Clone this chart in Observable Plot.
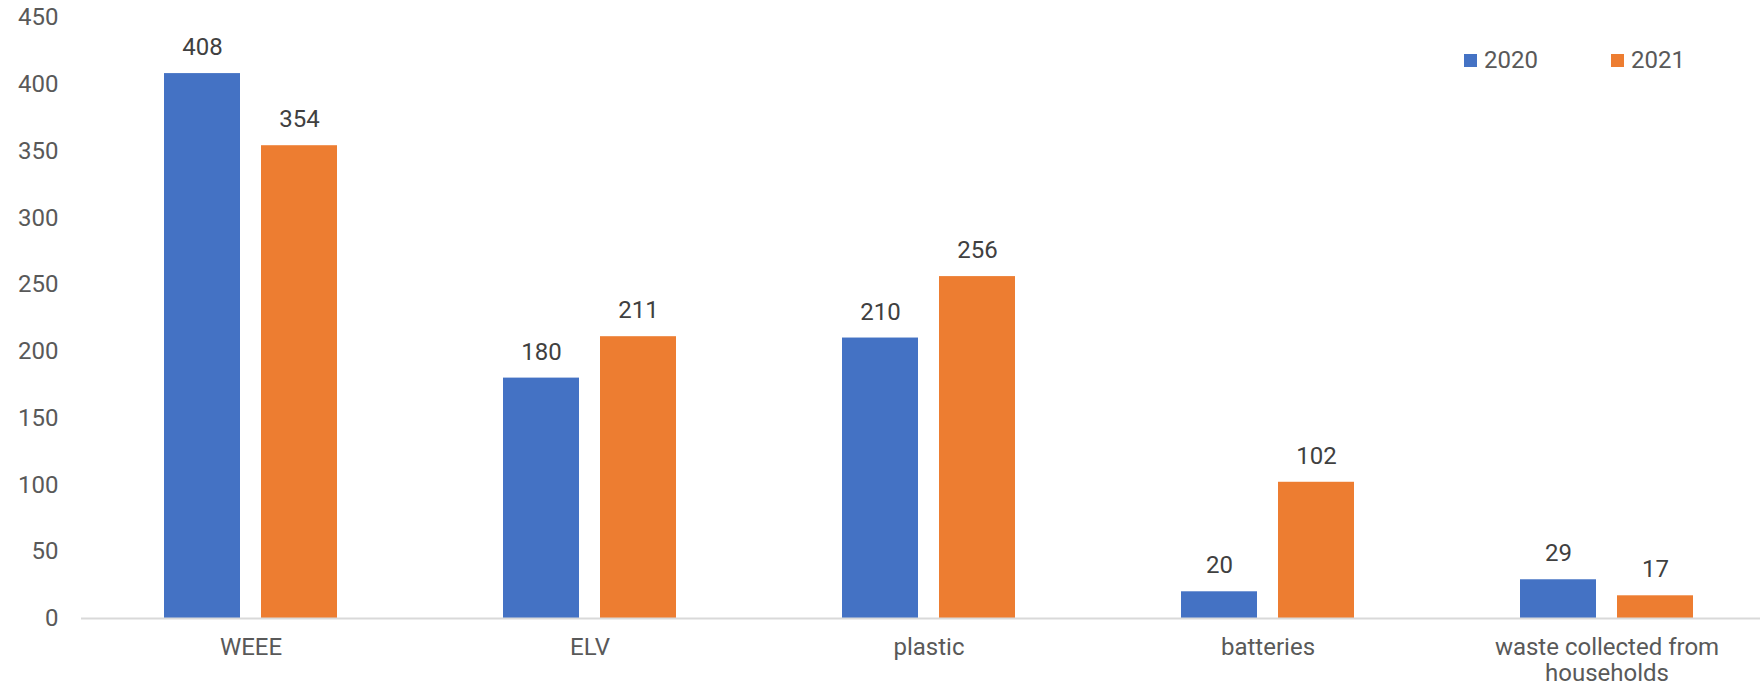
<!DOCTYPE html>
<html>
<head>
<meta charset="utf-8">
<script src="https://cdn.jsdelivr.net/npm/d3@7"></script>
<script src="https://cdn.jsdelivr.net/npm/@observablehq/plot@0.6"></script>
<style>
  html, body { margin: 0; padding: 0; background: #fff; overflow: hidden; }
  #wrap { position: relative; width: 1760px; height: 687px; overflow: hidden; font-family: Roboto, "Liberation Sans", sans-serif; }
  #wrap svg { overflow: hidden; }
  .leg { position: absolute; top: 46px; display: flex; align-items: center; font-size: 24px; color: #595959; line-height: 28px; }
  .sw { width: 13px; height: 13px; margin-right: 7px; }
</style>
</head>
<body>
<div id="wrap"></div>
<script>
const categories = ["WEEE", "ELV", "plastic", "batteries", "waste collected from households"];
const years = ["2020", "2021"];
const values2020 = [408, 180, 210, 20, 29];
const values2021 = [354, 211, 256, 102, 17];
const yTicks = [0, 50, 100, 150, 200, 250, 300, 350, 400, 450];
const colors = ["#4472C4", "#ED7D31"];

const data = categories.flatMap((c, i) => [
  {category: c, year: years[0], value: values2020[i]},
  {category: c, year: years[1], value: values2021[i]}
]);

const chart = Plot.plot({
  width: 1760,
  height: 687,
  marginLeft: 80,
  marginRight: -17,
  marginTop: 17,
  marginBottom: 69,
  style: {fontFamily: "Roboto, 'Liberation Sans', sans-serif", fontSize: "24px", color: "#595959", background: "#fff"},
  fx: {domain: categories, padding: 0, label: null},
  x: {domain: years, paddingInner: 0.2165, paddingOuter: 0.85, axis: null},
  y: {domain: [0, 450], label: null},
  color: {domain: years, range: colors},
  marks: [
    Plot.axisY({ticks: yTicks, tickSize: 0, tickPadding: 23, label: null, fontSize: 24, fill: "#595959"}),
    Plot.axisFx({anchor: "bottom", tickSize: 0, tickPadding: 19, lineWidth: 12, lineHeight: 1.05, label: null, fontSize: 24, fill: "#595959"}),
    Plot.barY(data, {fx: "category", x: "year", y: "value", fill: "year"}),
    Plot.text(data, {fx: "category", x: "year", y: "value", text: d => String(d.value), dy: -26, fill: "#404040", fontSize: 24}),
    Plot.ruleY([0], {stroke: "#d9d9d9", strokeWidth: 2})
  ]
});

const wrap = document.getElementById("wrap");
wrap.appendChild(chart);

const legendLefts = [1464, 1611];
years.forEach((y, i) => {
  const item = document.createElement("div");
  item.className = "leg";
  item.style.left = legendLefts[i] + "px";
  const sw = document.createElement("span");
  sw.className = "sw";
  sw.style.background = colors[i];
  const t = document.createElement("span");
  t.textContent = y;
  item.appendChild(sw);
  item.appendChild(t);
  wrap.appendChild(item);
});
</script>
</body>
</html>
